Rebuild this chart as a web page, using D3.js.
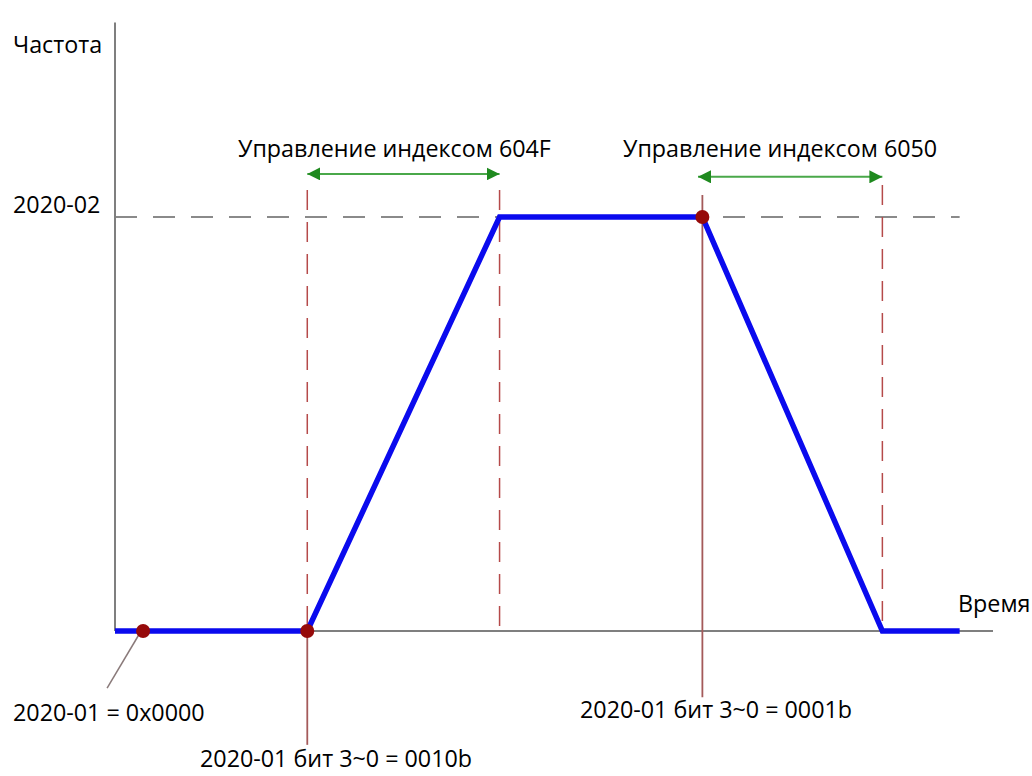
<!DOCTYPE html>
<html>
<head>
<meta charset="utf-8">
<script src="https://cdn.jsdelivr.net/npm/d3@7"></script>
<style>
  html, body { margin: 0; padding: 0; background: #ffffff; }
  svg { display: block; }
  text { font-family: "Open Sans", "Noto Sans", sans-serif; fill: #000; }
</style>
</head>
<body>
<svg id="chart" width="1032" height="776"></svg>
<script>
// ---------- data ----------
// velocity profile (time in arbitrary units, frequency normalised to 2020-02 = 1)
const profileTime = [0, 21.9, 43.8, 66.9, 87.4, 96.2];
const profileFreq = [0, 0, 1, 1, 0, 0];

// event markers (red dots)
const markerTime = [3.2, 21.9, 66.9];
const markerFreq = [0, 0, 1];

// dashed vertical guide lines
const guideTime = [21.9, 43.8, 87.4];
const guideTop  = [1.065, 1.065, 1.077];

// solid vertical event lines (to labels below axis)
const eventTime   = [21.9, 66.9];
const eventTop    = [0, 1.053];
const eventBottom = [-0.275, -0.16];

// control-range arrows
const arrowStart = [21.9, 66.4];
const arrowEnd   = [43.8, 87.4];
const arrowFreq  = [1.104, 1.097];
const arrowLabels = ["Управление индексом 604F", "Управление индексом 6050"];

// axis / reference labels
const yAxisLabel = "Частота";
const xAxisLabel = "Время";
const refLevelLabel = "2020-02";
const refLevel = 1;

// event labels
const eventLabels = ["2020-01 = 0x0000", "2020-01 бит 3~0 = 0010b", "2020-01 бит 3~0 = 0001b"];

// ---------- scales ----------
const svg = d3.select("#chart");
const x = d3.scaleLinear().domain([0, 100]).range([115, 993]);
const y = d3.scaleLinear().domain([0, 1]).range([631, 217]);

const defs = svg.append("defs");
["start", "end"].forEach(k => {
  defs.append("marker")
    .attr("id", "arrow-" + k)
    .attr("viewBox", "0 0 10 10")
    .attr("refX", k === "end" ? 10 : 0).attr("refY", 5)
    .attr("markerWidth", 13).attr("markerHeight", 13)
    .attr("markerUnits", "userSpaceOnUse")
    .attr("orient", "auto")
    .append("path")
    .attr("d", k === "end" ? "M0,0 L10,5 L0,10 Z" : "M10,0 L0,5 L10,10 Z")
    .attr("fill", "#1f8a1f");
});

// reference level dashed line
svg.append("line")
  .attr("x1", x(0)).attr("x2", x(96.2))
  .attr("y1", y(refLevel)).attr("y2", y(refLevel))
  .attr("stroke", "#8a8a8a").attr("stroke-width", 2)
  .attr("stroke-dasharray", "22,16");

// axes
svg.append("line")
  .attr("x1", x(0)).attr("x2", x(0))
  .attr("y1", y(0)).attr("y2", y(1.47))
  .attr("stroke", "#7f7f7f").attr("stroke-width", 2);
svg.append("line")
  .attr("x1", x(0)).attr("x2", x(100))
  .attr("y1", y(0)).attr("y2", y(0))
  .attr("stroke", "#7f7f7f").attr("stroke-width", 2);

// dashed vertical guides
svg.selectAll(".guide").data(guideTime).join("line")
  .attr("class", "guide")
  .attr("x1", d => x(d)).attr("x2", d => x(d))
  .attr("y1", (d, i) => y(guideTop[i])).attr("y2", y(0))
  .attr("stroke", "#b54a4a").attr("stroke-width", 1.5)
  .attr("stroke-dasharray", "20,12");

// solid vertical event lines
svg.selectAll(".event").data(eventTime).join("line")
  .attr("class", "event")
  .attr("x1", d => x(d)).attr("x2", d => x(d))
  .attr("y1", (d, i) => y(eventTop[i])).attr("y2", (d, i) => y(eventBottom[i]))
  .attr("stroke", "#a45a5a").attr("stroke-width", 1.8);

// leader line from first marker
svg.append("line")
  .attr("x1", x(markerTime[0]) - 2).attr("y1", y(0))
  .attr("x2", x(-0.9)).attr("y2", y(-0.138))
  .attr("stroke", "#8a7a7a").attr("stroke-width", 1.5);

// profile
svg.append("path")
  .datum(profileTime.map((t, i) => [t, profileFreq[i]]))
  .attr("d", d3.line().x(d => x(d[0])).y(d => y(d[1])))
  .attr("fill", "none").attr("stroke", "#0a0aee").attr("stroke-width", 5.5)
  .attr("stroke-linejoin", "miter");

// markers
svg.selectAll(".marker").data(markerTime).join("circle")
  .attr("class", "marker")
  .attr("cx", d => x(d)).attr("cy", (d, i) => y(markerFreq[i]))
  .attr("r", 7).attr("fill", "#960a0a");

// arrows
svg.selectAll(".arrow").data(arrowStart).join("line")
  .attr("class", "arrow")
  .attr("x1", d => x(d)).attr("x2", (d, i) => x(arrowEnd[i]))
  .attr("y1", (d, i) => y(arrowFreq[i])).attr("y2", (d, i) => y(arrowFreq[i]))
  .attr("stroke", "#4aa84a").attr("stroke-width", 2)
  .attr("marker-start", "url(#arrow-start)")
  .attr("marker-end", "url(#arrow-end)");

const fs = 23.3;
const arrowLabelX = [238, 623];
svg.selectAll(".arrowLabel").data(arrowLabels).join("text")
  .attr("class", "arrowLabel")
  .attr("x", (d, i) => arrowLabelX[i])
  .attr("y", 157)
  .attr("font-size", fs)
  .text(d => d);

// axis labels
svg.append("text").attr("x", 13).attr("y", 53).attr("font-size", fs).text(yAxisLabel);
svg.append("text").attr("x", 958).attr("y", 612).attr("font-size", fs).text(xAxisLabel);
svg.append("text").attr("x", 13).attr("y", y(refLevel) - 4).attr("font-size", fs).text(refLevelLabel);

// event labels
svg.append("text").attr("x", 13).attr("y", 721).attr("font-size", fs).text(eventLabels[0]);
svg.append("text").attr("x", 200).attr("y", 767).attr("font-size", fs).text(eventLabels[1]);
svg.append("text").attr("x", 580).attr("y", 718).attr("font-size", fs).text(eventLabels[2]);
</script>
</body>
</html>
